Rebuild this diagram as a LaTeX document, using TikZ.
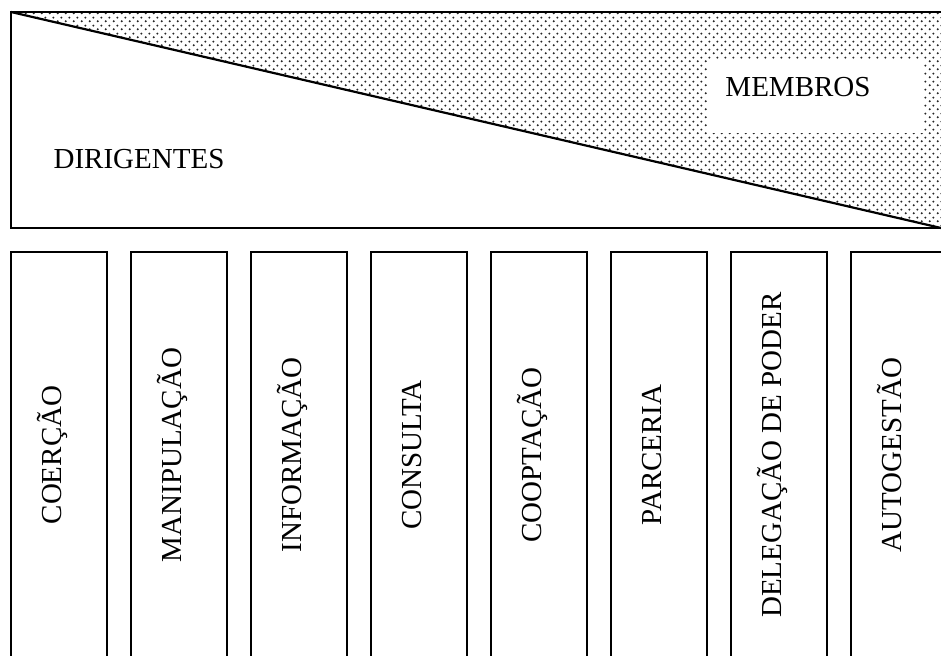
\documentclass[tikz,border=0pt]{standalone}
\usepackage{fontspec}
\setmainfont{Liberation Serif}
\usetikzlibrary{patterns,positioning}

\pgfdeclarepatternformonly{memberdots}{\pgfqpoint{0pt}{0pt}}{\pgfqpoint{8pt}{8pt}}{\pgfqpoint{8pt}{8pt}}{%
  \pgfpathcircle{\pgfqpoint{2pt}{2pt}}{1.2pt}%
  \pgfpathcircle{\pgfqpoint{6pt}{6pt}}{1.2pt}%
  \pgfusepath{fill}}

\begin{document}
\begin{tikzpicture}[x=1pt, y=1pt, line width=1.9pt]
    % Styles
    \tikzstyle{panel} = [rectangle, inner sep=0pt, outer sep=0pt, minimum width=934pt, minimum height=216pt, anchor=north west]
    \tikzstyle{bar} = [rectangle, draw, fill=white, outer sep=0pt, minimum width=96pt, minimum height=420pt, anchor=north]
    \tikzstyle{whitebox} = [rectangle, fill=white, minimum width=217pt, minimum height=73pt]
    \tikzstyle{barlabel} = [rotate=90, anchor=base, inner sep=0pt, font=\fontsize{29}{34}\selectfont]
    \tikzstyle{sidelabel} = [inner sep=0pt, font=\fontsize{29}{34}\selectfont]

    \useasboundingbox (0,0) rectangle (941,655);
    \clip (0,0) rectangle (941,655);

    % Top panel
    \node [panel] (panel) at (11,643) {};
    \coordinate (split) at (941,427);
    \fill [pattern=memberdots, pattern color=black!85] (panel.north west) -- (panel.north east) -- (panel.south east) -- (split) -- cycle;
    \node [whitebox] (membbox) at (815.5,558.5) {};
    \draw (panel.north west) rectangle (panel.south east);
    \draw [line width=2.2pt] (panel.north west) -- (split);
    \node [sidelabel] (dirigentes) at (139,495.5) {DIRIGENTES};
    \node [sidelabel] (membros) at (798,567.8) {MEMBROS};

    % Bars
    \node [bar] (b1) at (59,403) {};
    \node [bar, right=24pt of b1] (b2) {};
    \node [bar, right=24pt of b2] (b3) {};
    \node [bar, right=24pt of b3] (b4) {};
    \node [bar, right=24pt of b4] (b5) {};
    \node [bar, right=24pt of b5] (b6) {};
    \node [bar, right=24pt of b6] (b7) {};
    \node [bar, right=24pt of b7] (b8) {};

    % Labels
    \foreach \i/\txt in {1/COERÇÃO, 2/MANIPULAÇÃO, 3/INFORMAÇÃO, 4/CONSULTA, 5/COOPTAÇÃO, 6/PARCERIA, 7/DELEGAÇÃO DE PODER, 8/AUTOGESTÃO}
        \node [barlabel] (lab\i) at ([shift={(2,-203)}]b\i.north) {\txt};

\end{tikzpicture}
\end{document}
